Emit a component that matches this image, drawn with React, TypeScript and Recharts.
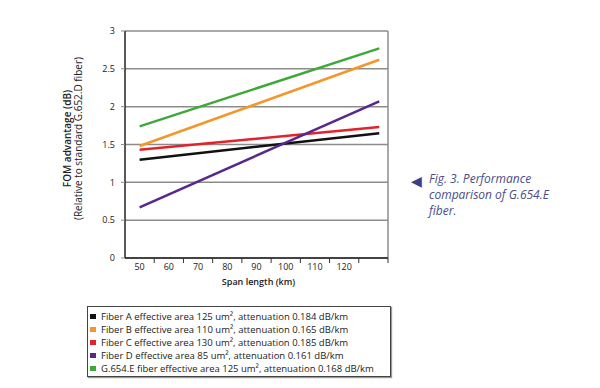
import { LineChart, Line, XAxis, YAxis, CartesianGrid, ReferenceLine } from "recharts";

// span length (km) at the two ends of every line
const spanKm = [50, 132];
const xLabelTicks = [50, 60, 70, 80, 90, 100, 110, 120];
const xMarkTicks = [55, 65, 75, 85, 95, 105, 115, 125, 135];
const yTicks = [0, 0.5, 1, 1.5, 2, 2.5, 3];
const xDomain = [45, 135];

const fiberA = [1.3, 1.65];
const fiberB = [1.48, 2.62];
const fiberC = [1.43, 1.73];
const fiberD = [0.67, 2.07];
const g654e = [1.74, 2.77];

const seriesNames = [
  "Fiber A effective area 125 um², attenuation 0.184 dB/km",
  "Fiber B effective area 110 um², attenuation 0.165 dB/km",
  "Fiber C effective area 130 um², attenuation 0.185 dB/km",
  "Fiber D effective area 85 um², attenuation 0.161 dB/km",
  "G.654.E fiber effective area 125 um², attenuation 0.168 dB/km",
];
const seriesKeys = ["a", "b", "c", "d", "e"];
const seriesColors = ["#111111", "#f4962a", "#e3222c", "#57288a", "#3fa83a"];

const data = spanKm.map((km, i) => ({
  km,
  a: fiberA[i],
  b: fiberB[i],
  c: fiberC[i],
  d: fiberD[i],
  e: g654e[i],
}));

const font = "'Open Sans', 'Noto Sans', sans-serif";

function YLabel(props: any) {
  const vb = props.viewBox || {};
  const cy = vb.y + vb.height / 2 - 6;
  return (
    <g fontFamily={font} fontSize={10} fill="#222">
      <text x={71} y={cy} transform={`rotate(-90 71 ${cy})`} textAnchor="middle" fontWeight={600}>
        FOM advantage (dB)
      </text>
      <text x={82} y={cy} transform={`rotate(-90 82 ${cy})`} textAnchor="middle">
        (Relative to standard G.652.D fiber)
      </text>
    </g>
  );
}

// tick marks sit on category edges, the label is put in the middle of the band before it
function BandTick(props: any) {
  const { x, y, width, payload } = props;
  const value = payload.value - 5;
  if (!xLabelTicks.includes(value)) return null;
  const pxPerKm = width / (xDomain[1] - xDomain[0]);
  return (
    <text
      x={x - 5 * pxPerKm}
      y={y}
      dy="0.71em"
      textAnchor="middle"
      fill="#222"
      fontSize={9}
      fontFamily={font}
    >
      {value}
    </text>
  );
}

export default function App() {
  return (
    <div
      style={{
        position: "absolute",
        left: 0,
        top: 0,
        width: 600,
        height: 388,
        background: "#fff",
        fontFamily: font,
      }}
    >
      <LineChart
        width={600}
        height={388}
        data={data}
        margin={{ top: 31, right: 212, bottom: 0, left: 0 }}
      >
        <CartesianGrid vertical={false} stroke="#8c8c8c" strokeWidth={1.5} />
        <XAxis
          dataKey="km"
          type="number"
          domain={xDomain}
          ticks={xMarkTicks}
          interval={0}
          height={130}
          tickSize={5}
          tickMargin={1}
          tickLine={{ stroke: "#333" }}
          axisLine={{ stroke: "#222", strokeWidth: 1.5 }}
          tick={<BandTick />}
          label={{
            value: "Span length (km)",
            position: "insideTop",
            offset: 21,
            dx: 2,
            fill: "#222",
            fontSize: 9,
            fontWeight: 600,
            fontFamily: font,
          }}
        />
        <YAxis
          type="number"
          domain={[0, 3]}
          ticks={yTicks}
          width={125}
          tickSize={4}
          tickMargin={6}
          tickLine={{ stroke: "#8c8c8c" }}
          axisLine={{ stroke: "#222", strokeWidth: 1.5 }}
          tick={{ fill: "#222", fontSize: 9, fontFamily: font }}
          label={{ content: <YLabel /> }}
        />
        <ReferenceLine x={135} stroke="#8c8c8c" strokeWidth={1.5} />
        {seriesKeys.map((k, i) => (
          <Line
            key={k}
            type="linear"
            dataKey={k}
            stroke={seriesColors[i]}
            strokeWidth={2.5}
            dot={false}
            isAnimationActive={false}
          />
        ))}
      </LineChart>

      <div
        style={{
          position: "absolute",
          left: 87,
          top: 306,
          width: 304,
          height: 71,
          border: "1.5px solid #444",
          boxShadow: "1px 1px 1px #999",
          boxSizing: "border-box",
          padding: "3px 0 0 2px",
        }}
      >
        {seriesNames.map((name, i) => (
          <div
            key={name}
            style={{
              display: "flex",
              alignItems: "center",
              height: 13,
              fontSize: 9.5,
              color: "#222",
              whiteSpace: "nowrap",
            }}
          >
            <span
              style={{
                display: "inline-block",
                width: 6,
                height: 5,
                background: seriesColors[i],
                marginRight: 5,
              }}
            />
            {name}
          </div>
        ))}
      </div>

      <div
        style={{
          position: "absolute",
          left: 411,
          top: 171,
          display: "flex",
          color: "#4a4c8c",
        }}
      >
        <div style={{ fontSize: 14, lineHeight: "16px", marginTop: 2, marginRight: 7, color: "#3b3e8e" }}>◀</div>
        <div style={{ fontSize: 12, fontStyle: "italic", lineHeight: "16px" }}>
          Fig. 3. Performance
          <br />
          comparison of G.654.E
          <br />
          fiber.
        </div>
      </div>
    </div>
  );
}
